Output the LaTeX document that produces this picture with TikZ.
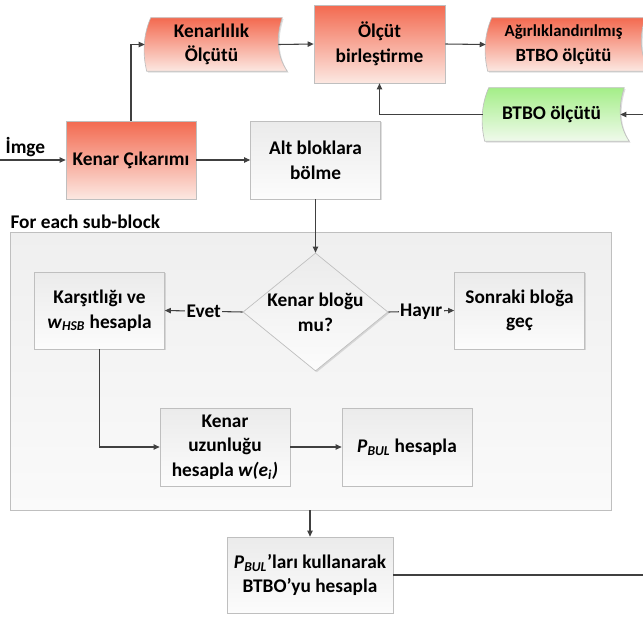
\documentclass[tikz,border=0pt]{standalone}
\usepackage{fontspec}
\setmainfont{Carlito}
\usetikzlibrary{arrows.meta,shapes.geometric,shadows,backgrounds,calc}
\definecolor{linegray}{HTML}{404040}
\definecolor{boxborder}{HTML}{BFBFBF}
\definecolor{redtop}{HTML}{F36A50}
\definecolor{redbot}{HTML}{FCE8E2}
\definecolor{greentop}{HTML}{A4EE88}
\definecolor{greenbot}{HTML}{F0FAEC}
\definecolor{graytop}{HTML}{EBEBEB}
\definecolor{graybot}{HTML}{FCFCFC}
\definecolor{looptop}{HTML}{EFEFEF}
\definecolor{loopbot}{HTML}{FAFAFA}
\tikzset{
    base-box/.style = {rectangle, draw=boxborder, line width=0.5pt, inner sep=2pt, minimum width=97.5pt, minimum height=58.5pt, drop shadow={shadow xshift=1pt, shadow yshift=-1pt, opacity=0.25}},
    gray-box/.style = {base-box, top color=graytop, bottom color=graybot},
    red-box/.style = {base-box, top color=redtop, bottom color=redbot},
    tape-box/.style = {rectangle, inner sep=2pt, minimum height=39.75pt},
    decision/.style = {diamond, draw=boxborder, line width=0.5pt, inner sep=-3pt, aspect=1.23, minimum width=108.75pt, minimum height=88.5pt, top color=graytop, bottom color=graybot, drop shadow={shadow xshift=1pt, shadow yshift=-1pt, opacity=0.25}},
    loop-box/.style = {rectangle, draw=boxborder, line width=0.5pt, minimum width=450.75pt, minimum height=208.5pt, top color=looptop, bottom color=loopbot, drop shadow={shadow xshift=1pt, shadow yshift=-1pt, opacity=0.25}},
    loop-title/.style = {anchor=south west, inner sep=1pt},
    yes-no/.style = {fill=looptop!60!loopbot, inner sep=1pt},
    arr/.style = {draw=linegray, line width=0.8pt, -{Triangle[length=4.5pt,width=4pt]}},
    line/.style = {draw=linegray, line width=0.8pt},
}
% tape outline round a node: curled left and right ends
\newcommand{\tapeshape}[2]{%
  \path[#2, drop shadow={shadow xshift=1pt, shadow yshift=-1pt, opacity=0.25}]
    ($(#1.north west)+(6,0)$) .. controls ($(#1.north west)+(-2,18)$) and ($(#1.south west)+(-2,-16)$) .. ($(#1.south west)+(2,0)$)
    -- ($(#1.south east)+(9,0)$) .. controls ($(#1.south east)+(-2,-16)$) and ($(#1.north east)+(-2,18)$) .. ($(#1.north east)+(4,0)$)
    -- cycle;}

\begin{document}
\begin{tikzpicture}[x=0.75pt, y=-0.75pt, every node/.style={font=\bfseries\fontsize{14.5}{18.5}\selectfont, align=center}]
\useasboundingbox (0,0) rectangle (643,618);

% loop frame
\node [loop-box] (loop) at (310.5,371) {};
\node [loop-title] (looptitle) at (9,230) {For each sub-block};

% top row
\coordinate (imgin) at (0,160);
\node [red-box] (kenar) at (131,160) {Kenar Çıkarımı};
\node [anchor=south west, inner sep=1pt] (imgelbl) at (4,158) {İmge};
\node [gray-box] (alt) at (315.5,160) {Alt bloklara\\bölme};
\node [tape-box, minimum width=99.75pt] (kenarlilik) at (211.5,44.5) {Kenarlılık\\Ölçütü};
\node [red-box, minimum width=98.25pt] (birles) at (379.5,44) {Ölçüt\\birleştirme};
\node [tape-box, minimum width=116.25pt] (agir) at (563.5,44.5) {{\fontsize{12.6}{18.5}\selectfont Ağırlıklandırılmış}\\{\fontsize{14}{18.5}\selectfont BTBO ölçütü}};
\node [tape-box, minimum width=102.75pt] (btbo) at (551.5,114.5) {BTBO ölçütü};
\coordinate (btboin) at (643,114.5);

\begin{scope}[on background layer]
\tapeshape{kenarlilik}{draw=boxborder, line width=0.5pt, top color=redtop, bottom color=redbot}
\tapeshape{agir}{draw=boxborder, line width=0.5pt, top color=redtop, bottom color=redbot}
\tapeshape{btbo}{draw=boxborder, line width=0.5pt, top color=greentop, bottom color=greenbot}
\end{scope}

% inside the loop
\node [decision] (dec) at (315.5,312) {Kenar bloğu\\mu?};
\node [gray-box, minimum height=57.75pt] (karsit) at (99.5,310.5) {Karşıtlığı ve\\\textit{w}\textsubscript{\textit{HSB}} hesapla};
\node [gray-box, minimum height=57.75pt] (sonraki) at (519.5,310.5) {Sonraki bloğa\\geç};
\node [gray-box] (uzun) at (225,447) {Kenar\\uzunluğu\\hesapla \textit{w(e\textsubscript{i})}};
\node [gray-box] (pbul) at (407,447) {\textit{P}\textsubscript{\textit{BUL}} hesapla};

% bottom
\node [gray-box, minimum width=124.5pt, minimum height=57pt] (btbohes) at (310,575) {\textit{P}\textsubscript{\textit{BUL}}’ları kullanarak\\BTBO’yu hesapla};
\coordinate (btboout) at (643,575);

\draw [arr] (imgin) -- (kenar.west);
\draw [arr] (kenar.east) -- (alt.west);
\draw [arr] (kenar.north) |- (kenarlilik.west);
\draw [arr] (kenarlilik.east) -- (birles.west);
\draw [arr] (birles.east) -- (agir.west);
\draw [arr] (btboin) -- (btbo.east);
\draw [arr] (btbo.west) -| (birles.south);
\draw [arr] (alt.south) -- (dec.north);
\draw [arr] (dec.west) -- node [yes-no] {Evet} (karsit.east);
\draw [arr] (dec.east) -- node [yes-no] {Hayır} (sonraki.west);
\draw [arr] (karsit.south) |- (uzun.west);
\draw [arr] (uzun.east) -- (pbul.west);
\draw [arr] (loop.south -| btbohes.north) -- (btbohes.north);
\draw [line] (btbohes.east) -- (btboout);
\end{tikzpicture}
\end{document}
